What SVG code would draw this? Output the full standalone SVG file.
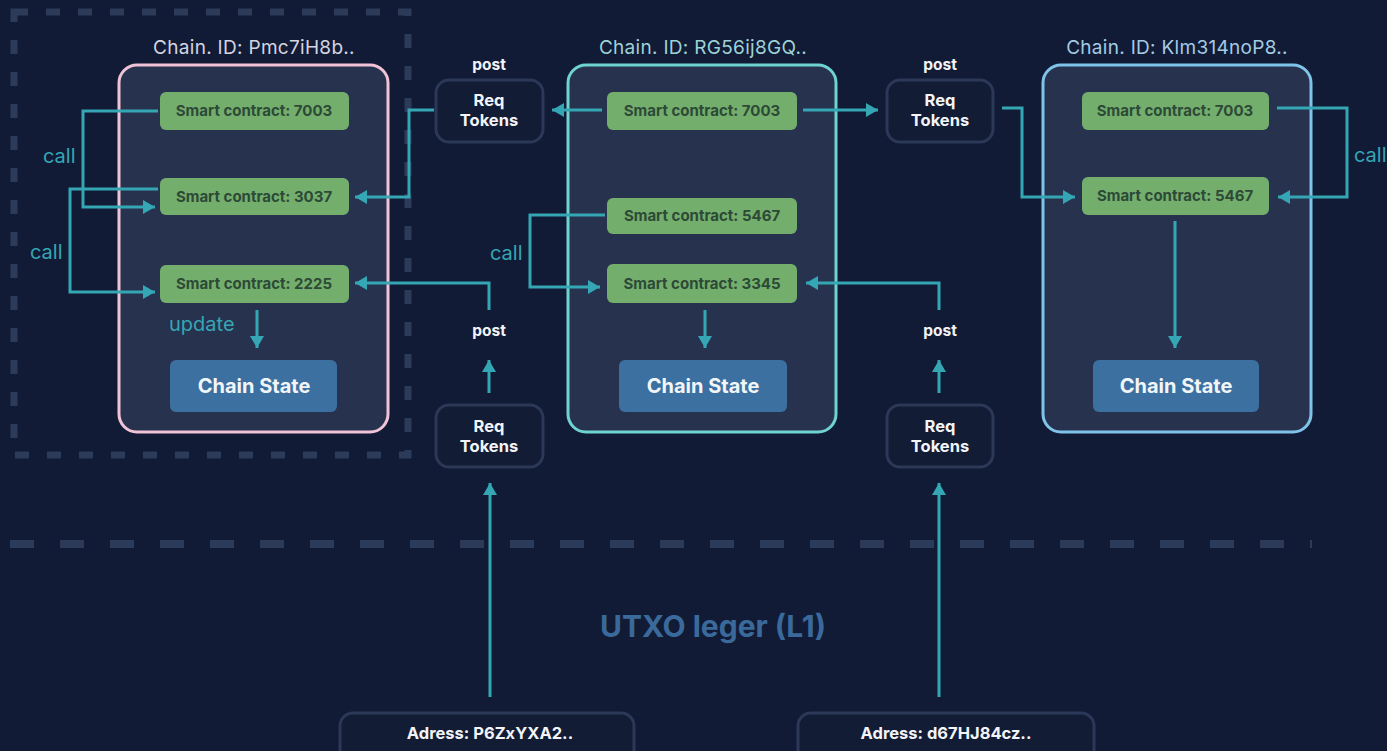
<svg xmlns="http://www.w3.org/2000/svg" width="1387" height="751" viewBox="0 0 1387 751">
<defs>
<marker id="ah" viewBox="0 0 12 14" refX="12" refY="7" markerWidth="12" markerHeight="14" markerUnits="userSpaceOnUse" orient="auto">
<path d="M0,0 L12,7 L0,14 z" fill="#35a6b4"/>
</marker>
<style>
.chain{fill:#27324f;stroke-width:3}
.sc{fill:#74ae6c}
.sct{font-family:Inter,"Liberation Sans",sans-serif;font-size:15px;font-weight:700;fill:#2c4a37;text-anchor:middle}
.cs{fill:#3c70a0}
.cst{font-family:Inter,"Liberation Sans",sans-serif;font-size:20px;font-weight:700;fill:#f2f5f8;text-anchor:middle}
.title{font-family:Inter,"Liberation Sans",sans-serif;font-size:19px;letter-spacing:0.3px;text-anchor:middle}
.req{fill:#131c35;stroke:#2b3858;stroke-width:3}
.wt{font-family:Inter,"Liberation Sans",sans-serif;font-size:16.5px;font-weight:700;fill:#f2f4f8;text-anchor:middle}
.post{font-family:Inter,"Liberation Sans",sans-serif;font-size:15.5px;font-weight:700;fill:#f2f4f8;text-anchor:middle}
.lbl{font-family:Inter,"Liberation Sans",sans-serif;font-size:20px;fill:#35a6b4}
.conn{fill:none;stroke:#35a6b4;stroke-width:3;marker-end:url(#ah)}
.dash{fill:none;stroke:#2c3b5a}
</style>
</defs>
<rect x="0" y="0" width="1387" height="751" fill="#121b35"/>

<g id="boundaries">
<rect class="dash" x="14" y="12" width="394" height="443" stroke-width="7" stroke-dasharray="14 18"/>
<line class="dash" x1="10" y1="544" x2="1312" y2="544" stroke-width="8" stroke-dasharray="24 26"/>
</g>

<g id="chain1">
<rect class="chain" x="119" y="65" width="269" height="367" rx="18" stroke="#f0c4d6"/>
<text class="title" x="254" y="54" fill="#d4d5e0">Chain. ID: Pmc7iH8b..</text>
</g>
<g id="chain2">
<rect class="chain" x="568" y="65" width="268" height="367" rx="18" stroke="#6fd3d0"/>
<text class="title" x="703" y="54" fill="#9dd2d6">Chain. ID: RG56ij8GQ..</text>
</g>
<g id="chain3">
<rect class="chain" x="1043" y="65" width="268" height="367" rx="18" stroke="#80c3ea"/>
<text class="title" x="1177" y="54" fill="#a3cbe4">Chain. ID: Klm314noP8..</text>
</g>

<g id="c1-sc7003"><rect class="sc" x="160" y="92" width="189" height="38" rx="6"/><text class="sct" x="254" y="116">Smart contract: 7003</text></g>
<g id="c1-sc3037"><rect class="sc" x="160" y="178" width="189" height="37" rx="6"/><text class="sct" x="254" y="202">Smart contract: 3037</text></g>
<g id="c1-sc2225"><rect class="sc" x="160" y="265" width="189" height="38" rx="6"/><text class="sct" x="254" y="289">Smart contract: 2225</text></g>
<g id="c1-state"><rect class="cs" x="170" y="360" width="167" height="52" rx="6"/><text class="cst" x="254" y="393">Chain State</text></g>

<g id="c2-sc7003"><rect class="sc" x="607" y="92" width="190" height="38" rx="6"/><text class="sct" x="702" y="116">Smart contract: 7003</text></g>
<g id="c2-sc5467"><rect class="sc" x="607" y="198" width="190" height="36" rx="6"/><text class="sct" x="702" y="221">Smart contract: 5467</text></g>
<g id="c2-sc3345"><rect class="sc" x="607" y="264" width="190" height="39" rx="6"/><text class="sct" x="702" y="289">Smart contract: 3345</text></g>
<g id="c2-state"><rect class="cs" x="619" y="360" width="168" height="52" rx="6"/><text class="cst" x="703" y="393">Chain State</text></g>

<g id="c3-sc7003"><rect class="sc" x="1082" y="92" width="187" height="38" rx="6"/><text class="sct" x="1175" y="116">Smart contract: 7003</text></g>
<g id="c3-sc5467"><rect class="sc" x="1082" y="177" width="187" height="38" rx="6"/><text class="sct" x="1175" y="201">Smart contract: 5467</text></g>
<g id="c3-state"><rect class="cs" x="1093" y="360" width="166" height="52" rx="6"/><text class="cst" x="1176" y="393">Chain State</text></g>

<g id="req-top-left"><rect class="req" x="436" y="80" width="107" height="62" rx="13"/><text class="wt" x="489" y="106">Req</text><text class="wt" x="489" y="126">Tokens</text></g>
<g id="req-top-right"><rect class="req" x="887" y="80" width="106" height="62" rx="13"/><text class="wt" x="940" y="106">Req</text><text class="wt" x="940" y="126">Tokens</text></g>
<g id="req-bot-left"><rect class="req" x="436" y="405" width="107" height="62" rx="13"/><text class="wt" x="489" y="432">Req</text><text class="wt" x="489" y="452">Tokens</text></g>
<g id="req-bot-right"><rect class="req" x="887" y="405" width="106" height="62" rx="13"/><text class="wt" x="940" y="432">Req</text><text class="wt" x="940" y="452">Tokens</text></g>

<g id="addr1"><rect class="req" x="340" y="713" width="294" height="50" rx="13"/><text class="wt" x="490" y="739">Adress: P6ZxYXA2..</text></g>
<g id="addr2"><rect class="req" x="798" y="713" width="296" height="50" rx="13"/><text class="wt" x="946" y="739">Adress: d67HJ84cz..</text></g>

<g id="ledger-label">
<text x="713" y="637" font-family="Inter,'Liberation Sans',sans-serif" font-size="30" font-weight="700" fill="#3a6a9b" text-anchor="middle">UTXO leger (L1)</text>
</g>

<g id="connectors">
<path class="conn" d="M158,111 H83 V207 H155"/>
<path class="conn" d="M158,189 H70 V292 H155"/>
<path class="conn" d="M434,110 H409 V197 H355"/>
<path class="conn" d="M489,310 V283 H355"/>
<path class="conn" d="M257,310 V348"/>
<path class="conn" d="M602,110 H552"/>
<path class="conn" d="M803,110 H878"/>
<path class="conn" d="M605,215 H530 V287 H600"/>
<path class="conn" d="M705,310 V348"/>
<path class="conn" d="M939,310 V283 H806"/>
<path class="conn" d="M1002,108 H1022 V197 H1075"/>
<path class="conn" d="M1277,108 H1347 V197 H1278"/>
<path class="conn" d="M1175,221 V348"/>
<path class="conn" d="M489,393 V360"/>
<path class="conn" d="M939,393 V360"/>
<path class="conn" d="M490,697 V483"/>
<path class="conn" d="M939,697 V483"/>
<text class="lbl" x="43" y="163">call</text>
<text class="lbl" x="30" y="259">call</text>
<text class="lbl" x="490" y="260">call</text>
<text class="lbl" x="1354" y="162">call</text>
<text class="lbl" x="169" y="331">update</text>
<text class="post" x="489" y="70">post</text>
<text class="post" x="940" y="70">post</text>
<text class="post" x="489" y="336">post</text>
<text class="post" x="940" y="336">post</text>
</g>
</svg>
